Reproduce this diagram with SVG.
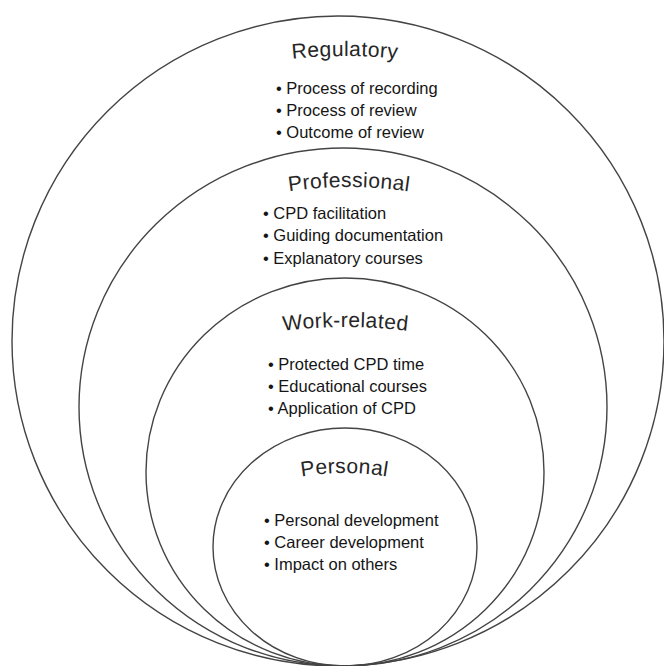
<svg xmlns="http://www.w3.org/2000/svg" width="664" height="666" viewBox="0 0 664 666">
<style>
.ring{fill:none;stroke:#444444;stroke-width:1.4}
.title{font-family:"Liberation Sans",Arial,sans-serif;font-size:21px;letter-spacing:0.4px;fill:#262626;text-anchor:middle}
.item{font-family:"Liberation Sans",Arial,sans-serif;font-size:16.5px;fill:#151515}
</style>
<defs>
<path id="arc-reg" d="M 275 61 Q 345 51 415 61"/>
<path id="arc-prof" d="M 279 193 Q 349 181 419 193"/>
<path id="arc-work" d="M 275 332 Q 345.5 322 416 332"/>
<path id="arc-pers" d="M 284 480 Q 344.5 466 405 480"/>
</defs>
<rect width="664" height="666" fill="#ffffff"/>
<g id="regulatory">
<ellipse class="ring" cx="338" cy="341" rx="326" ry="325"/>
<text class="title"><textPath href="#arc-reg" startOffset="50%">Regulatory</textPath></text>
<text class="item" x="276" y="94">• Process of recording</text>
<text class="item" x="276" y="116">• Process of review</text>
<text class="item" x="276" y="138">• Outcome of review</text>
</g>
<g id="professional">
<ellipse class="ring" cx="343" cy="407" rx="264" ry="259"/>
<text class="title"><textPath href="#arc-prof" startOffset="50%">Professional</textPath></text>
<text class="item" x="263" y="219">• CPD facilitation</text>
<text class="item" x="263" y="241">• Guiding documentation</text>
<text class="item" x="263" y="264">• Explanatory courses</text>
</g>
<g id="work-related">
<ellipse class="ring" cx="345" cy="472" rx="199" ry="194"/>
<text class="title"><textPath href="#arc-work" startOffset="50%">Work-related</textPath></text>
<text class="item" x="268" y="370">• Protected CPD time</text>
<text class="item" x="268" y="392">• Educational courses</text>
<text class="item" x="268" y="414">• Application of CPD</text>
</g>
<g id="personal">
<ellipse class="ring" cx="345" cy="547" rx="132" ry="119"/>
<text class="title"><textPath href="#arc-pers" startOffset="50%">Personal</textPath></text>
<text class="item" x="264" y="526">• Personal development</text>
<text class="item" x="264" y="548">• Career development</text>
<text class="item" x="264" y="570">• Impact on others</text>
</g>
</svg>
